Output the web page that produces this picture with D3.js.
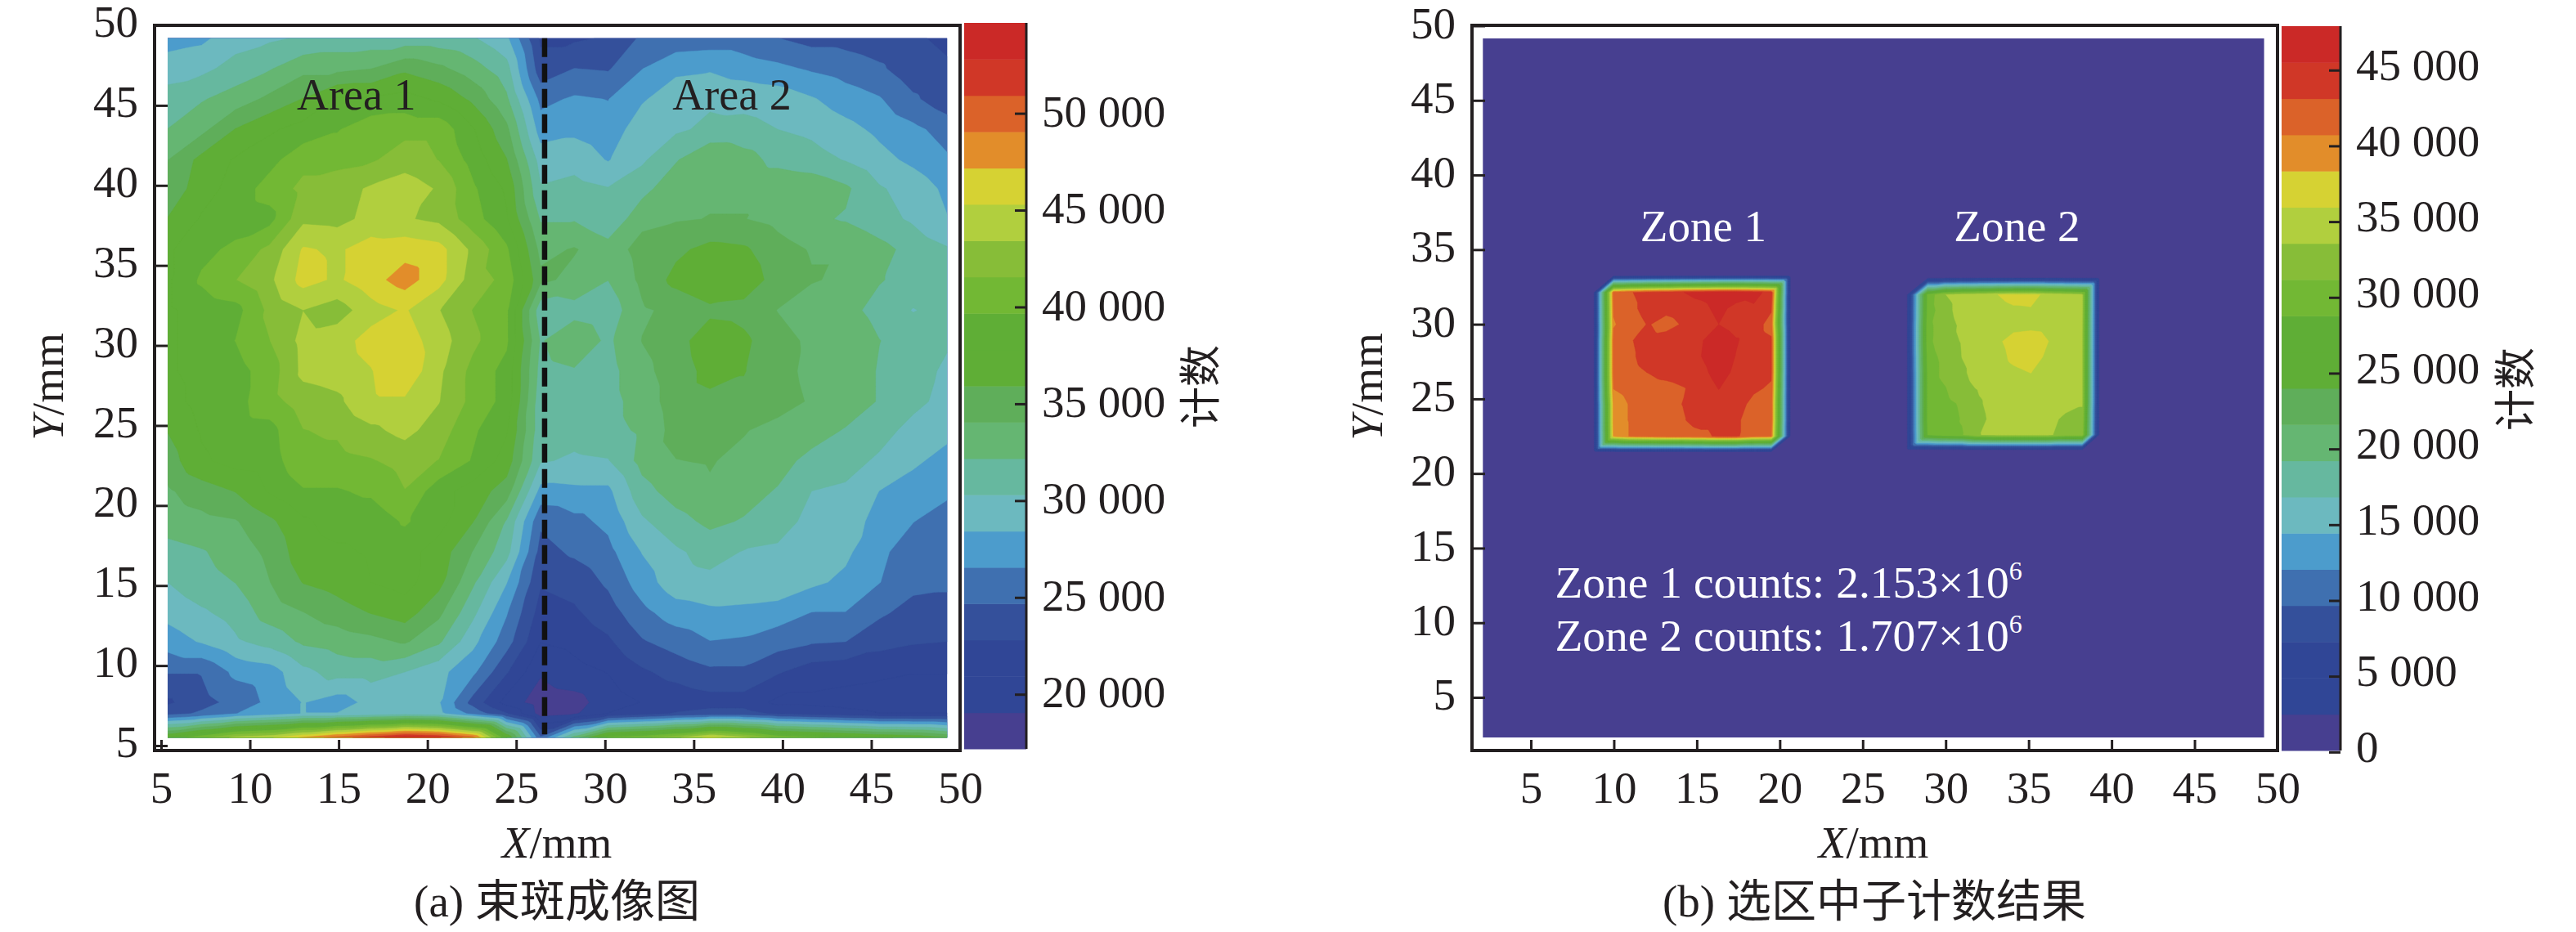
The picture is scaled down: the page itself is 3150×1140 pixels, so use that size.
<!DOCTYPE html>
<html><head><meta charset="utf-8">
<script src="https://cdn.jsdelivr.net/npm/d3@7"></script>
<style>
html,body{margin:0;padding:0;background:#fff}
svg{display:block}
text{font-family:"Liberation Serif","Noto Sans CJK SC",serif;fill:#231f20}
</style></head><body>
<svg id="c" width="3150" height="1140"></svg>
<script>
// ---------- shared ----------
const bandColors = ["#473f90","#304696","#304696","#34509b","#3f70b0","#4c9ccc","#6cb9bf","#66b89f","#65b672","#5fae5a","#5fae36","#5fae36","#72b834","#87bd38","#b1cf3e","#d6d233","#e28d2a","#db6229","#d03727","#cb2927"];
const axisTicks = [5,10,15,20,25,30,35,40,45,50];

// ---------- panel (a): counts in thousands ----------
const aBarLevels = [17.18,19.05,20.93,22.8,24.68,26.55,28.42,30.3,32.17,34.05,35.92,37.8,39.67,41.55,43.42,45.3,47.17,49.05,50.92,52.8,54.67];
const aBarTicks = [20000,25000,30000,35000,40000,45000,50000];
const aXNodes = [5.37,7.28,9.19,11.1,13.0,14.91,16.82,18.73,20.64,22.55,24.46,26.37,28.27,30.18,32.09,34.0,35.91,37.82,39.73,41.64,43.55,45.46,47.36,49.27];
const aYNodes = [49.2,47.3,45.4,43.5,41.6,39.8,37.9,36.0,34.1,32.2,30.3,28.4,26.5,24.7,22.8,20.9,19.0,17.1,15.2,13.3,11.5,9.6,7.7,7.0,5.5];
const aCounts = [
[27.5,28,29.5,30,30.5,31,31,31,31,30.5,28.8,22.5,22.5,23,25,25.3,25.5,25.5,24.7,24,24,23.5,23,22.5],
[29.5,29.8,31,32,33.5,33.5,34,35.5,34.5,33,31,23.5,24.7,24.5,26.5,28,28.2,27.5,27,26.3,25.7,25,23.5,23],
[31,32,33,34.5,36,38,38,38.5,37.5,35.5,32.5,26,26.8,26.5,28.2,29.5,30,29.8,29.5,28.6,27.5,26.7,25,23.5],
[32.2,33.5,36,37.5,38.5,39.5,41,41,41,38,34.5,27.5,28,27.3,29.5,30,30.7,30.8,30.3,29.9,29,28,27,25.8],
[34,36.5,38,39,41,41,41.3,42.5,41.5,39,36,29.5,29.5,28.3,30,32,34,33,31.5,31,30.2,29,28,26.8],
[34.5,37,38.5,40.5,42,42.5,43.7,44.5,43.2,40,37.5,30.5,31,30.4,31.5,33.5,33.8,33.8,33.8,33.5,32.5,30.5,29.5,28],
[36,38,38.5,39,43,42.8,44,43.6,43,40.5,38,32,32,30.6,33.5,33.9,34.1,34.1,33.5,32.5,32,31,30,28.5],
[37.5,39,40.2,42,45.5,45,46.2,46.5,46,43,40,33.5,34.2,33,34.8,35.5,36.5,36.2,34.8,33.9,33.9,32.8,31.5,30.5],
[37.5,40,41.5,43,46,45,46.5,48,46,42.5,41,34.5,33.5,32.2,34.5,36.5,37.5,37,35.2,34.2,33.7,32.3,31.5,31],
[37.5,38.5,39,42,43.4,42.5,44.5,45.5,43.5,41.5,40,31,31.5,31,33.8,34.5,35.5,35.3,34,33,32.8,31.5,30.2,31],
[37.5,38.5,39.7,41.5,44,44.5,46,46.3,44.3,42,40,32,33.5,31.8,34.1,35.2,37,36.3,34.7,33.7,33.7,32.2,31.5,30.5],
[37.5,38.5,39,40.5,43.9,44.3,45.2,46.8,43.8,41,39,31.5,32,31.5,33.5,35,36.5,36,34.8,33.5,33.5,32,31,30],
[37,38.5,39,40.8,42.5,43,45,45,43.5,41,39,31,30.8,31.5,33,35,35.5,35.5,35,33.8,33.5,32,30.8,29.7],
[36,38,38.8,39,41.5,41.8,43,44,42.5,40,38,31,31,31.5,32.5,34.8,35,34.2,33.3,33.2,32,31,29.7,29],
[35,37.5,38.5,38.8,41,41,41.4,42.2,41.5,39.5,37,30.5,30,30.2,32.8,34,34.2,33.5,33,31.5,31,30,28.8,27.7],
[33.8,35,36,38,39.5,39.5,40,41.5,38.5,37,35,27.8,28,28,31.5,33,33.8,33,32,30.3,30,28.4,27.5,27],
[33,33.5,33.9,35.5,37.5,38.5,38.5,39.9,38.5,36,32,25,26,27,30,31.5,32.6,32,31,29.8,29,28,26.6,25.5],
[31.5,32,33,34.5,37,37.5,38,38.5,37,34,31,24,25,26,28.5,30,31,30.2,30,29.8,28.8,27,25.5,25.5],
[30.3,31.5,32.2,34,36,36.7,37.8,38.5,36.5,32.5,28.5,23,23.5,25,27.5,29.5,29.8,30,29.8,28.8,28,26.6,25.2,25],
[29,30,31,33,34,35,36,36.8,34.5,30.8,26.7,22,22.5,23.8,26,27.5,28,27.8,27.5,26.5,26.5,25,24,24],
[27.5,28.6,30,31,32.5,33,33.5,34.3,32.5,29,25.5,21,21.5,22.5,24.5,25.5,26.5,26.3,25.5,24.9,24.7,23.5,23,22.8],
[24.8,24.8,27,27.5,29.8,31,31,30.3,29,27,23,19.3,20.3,21,22.5,23.5,24.3,24.3,23,21.8,21.5,21.3,21,21],
[22.5,24,25.3,27,28.5,27.5,29,29.5,28.6,24,20.2,18,18.3,20,21,21.5,22,22,20.5,20.5,20.3,20,20,20],
[24,25,26.5,27.5,28.5,28.5,29,29.5,29,26,23,18.3,18.8,21,22,23,23.5,23.5,22.5,22,21.5,21,21,21],
[38,41,44,45,47.5,50,52,54,53,50,38,25,33,40,41,43,46,44,41,40,39,38,37.5,36]
];

// ---------- panel (b): counts in thousands ----------
const bBarLevels = [0.1,2.49,4.88,7.27,9.66,12.05,14.44,16.83,19.22,21.61,24,26.39,28.78,31.17,33.56,35.95,38.34,40.73,43.12,45.51,47.9];
const bBarTicks = [0,5000,10000,15000,20000,25000,30000,35000,40000,45000];
const bPlateX = [2.1,49.2];
const bPlateY = [2.3,49.15];
const zone1X = [8.74,9.98,11.04,12.09,13.15,14.21,15.26,16.32,17.38,18.43,19.49,20.7];
const zone1Y = [33.3,32.13,31.06,29.99,28.92,27.85,26.78,25.71,24.64,23.57,22.5,21.4];
const zone1Counts = [
[0,0,0,0,0,0,0,0,0,0,0,0],
[0,41.5,43,44,44.5,45.5,46,46.5,46.5,46,45,0],
[0,41,42.6,44,44,44.7,45,46,45,45.3,43.5,0],
[0,40.5,42,43.3,42,43.5,44.5,45.5,44.5,44.5,42,0],
[0,41.5,43,44,44.5,44.5,45.3,47,45.7,44.5,43.5,0],
[0,41.5,42.8,44,44.5,44.5,45.5,47,45.4,44.5,43.5,0],
[0,41.5,42.5,43.2,44,44.5,44.8,46.5,45,44.5,43.5,0],
[0,40.8,41.7,42,42.3,43,44,45.6,44.3,43.5,42.8,0],
[0,39.5,41,42,42.5,43.2,44,44.5,44,42.5,42,0],
[0,39.5,41,42,42,43,44,44,43.5,42,42,0],
[0,39,41,41.5,42,42,42.5,43.5,43.5,41.5,41,0],
[0,0,0,0,0,0,0,0,0,0,0,0]
];
const zone2X = [27.58,28.92,29.95,30.99,32.02,33.06,34.09,35.13,36.16,37.2,38.23,39.32];
const zone2Y = [33.18,31.98,30.94,29.89,28.85,27.81,26.77,25.72,24.68,23.64,22.59,21.52];
const zone2Counts = [
[0,0,0,0,0,0,0,0,0,0,0,0],
[0,29.5,33.5,34.5,35,35.9,36.5,36.5,35.5,34.8,34,0],
[0,29.8,32.8,34.5,35,35.3,35.7,35.8,35,34.5,34,0],
[0,30.5,32.5,34,34.7,35,35.3,35.5,35.3,34.7,33.8,0],
[0,30.5,32.7,33.7,34.5,35.5,36.8,37,36,34.7,33.7,0],
[0,30,32,33.6,34.5,35,36.5,37,35.5,34.7,33.7,0],
[0,29.5,32,33.2,34.5,34.7,35.5,36,35,34.5,33.7,0],
[0,29.5,31,32.8,33.8,34.5,34.7,34.8,34.5,34.5,33.7,0],
[0,29.5,30.5,31.5,33.3,34.5,34.8,34.8,34.5,34.5,33.7,0],
[0,29.5,30.2,31.3,33,34.3,34.7,34.7,34.5,33,33,0],
[0,29,30.5,31,33.5,34,34,34,34,32.5,32.5,0],
[0,0,0,0,0,0,0,0,0,0,0,0]
];

// ---------- drawing ----------
const svg = d3.select("#c");
const FS = 55;
const fmtCount = v => v === 0 ? "0" : Math.floor(v/1000) + " " + String(v%1000).padStart(3,"0");

// piecewise-linear surface on a "/" triangulated mesh, contoured with d3.contours
function surface(g, rows, xn, yn, levels, x, y){
  const F = 8, n = xn.length, m = yn.length;
  const W = (n-1)*F+1, H = (m-1)*F+1, fine = new Float64Array(W*H);
  for(let j=0;j<H;j++){
    const r = Math.min(Math.floor(j/F), m-2), v = j/F-r;
    for(let i=0;i<W;i++){
      const c = Math.min(Math.floor(i/F), n-2), u = i/F-c;
      const a=rows[r][c], b=rows[r][c+1], e=rows[r+1][c], d=rows[r+1][c+1];
      fine[j*W+i] = (u+v<=1) ? a+u*(b-a)+v*(e-a) : d+(1-u)*(e-d)+(1-v)*(b-d);
    }
  }
  const xi = d3.scaleLinear().domain(d3.range(n)).range(xn);
  const yi = d3.scaleLinear().domain(d3.range(m)).range(yn);
  const path = d3.geoPath(d3.geoTransform({point(px,py){
    this.stream.point(x(xi((px-.5)/F)), y(yi((py-.5)/F)));
  }}));
  const thr = levels.slice(1,-1);
  const cs = d3.contours().size([W,H]).smooth(true).thresholds(thr)(fine);
  g.selectAll(null).data(cs).join("path")
    .attr("d", path)
    .attr("fill", (d,i)=>bandColors[i+1])
    .attr("stroke", (d,i)=>bandColors[i+1])
    .attr("stroke-width", .4);
}

function panel(o){
  const x = d3.scaleLinear().domain([5,50]).range(o.xr);
  const y = d3.scaleLinear().domain([5,50]).range(o.yr);
  const g = svg.append("g");
  // heat surface
  const clipId = "clip"+o.id;
  const px0=x(o.plateX[0]), px1=x(o.plateX[1]), py0=y(o.plateY[1]), py1=y(o.plateY[0]);
  g.append("clipPath").attr("id",clipId).append("rect")
    .attr("x",px0).attr("y",py0).attr("width",px1-px0).attr("height",py1-py0);
  const heat = g.append("g").attr("clip-path",`url(#${clipId})`);
  heat.append("rect").attr("x",px0).attr("y",py0).attr("width",px1-px0).attr("height",py1-py0).attr("fill",bandColors[0]);
  o.surfaces.forEach(s=>surface(heat,s.rows,s.xn,s.yn,o.levels,x,y));

  // axes
  const ax = d3.axisBottom(x).tickValues(axisTicks).tickSize(-13).tickPadding(25).tickFormat(d3.format("d"));
  const ay = d3.axisLeft(y).tickValues(axisTicks).tickSize(-16).tickPadding(20).tickFormat(d3.format("d"));
  const gx = g.append("g").attr("transform",`translate(0,${o.frame[3]})`).call(ax);
  const gy = g.append("g").attr("transform",`translate(${o.frame[0]},0)`).call(ay);
  [gx,gy].forEach(a=>{a.select(".domain").remove();
    a.selectAll("line").attr("stroke","#231f20").attr("stroke-width",3);
    a.selectAll("text").attr("font-size",FS).attr("font-family",null).attr("fill","#231f20");});
  gx.selectAll("text").attr("dy",null).attr("y",64);
  gy.selectAll("text").attr("transform",`translate(0,${o.labelShift})`);
  g.append("rect").attr("x",o.frame[0]).attr("y",o.frame[1]).attr("width",o.frame[2]-o.frame[0]).attr("height",o.frame[3]-o.frame[1])
    .attr("fill","none").attr("stroke","#231f20").attr("stroke-width",4);

  // titles
  const xt = g.append("text").attr("x",o.xTitle[0]).attr("y",o.xTitle[1]).attr("text-anchor","middle").attr("font-size",FS);
  xt.append("tspan").attr("font-style","italic").text("X"); xt.append("tspan").text("/mm");
  const yt = g.append("text").attr("transform",`translate(${o.yTitle[0]},${o.yTitle[1]}) rotate(-90)`).attr("text-anchor","middle").attr("font-size",FS);
  yt.append("tspan").attr("font-style","italic").text("Y"); yt.append("tspan").text("/mm");
  g.append("text").attr("x",o.caption[0]).attr("y",o.caption[1]).attr("text-anchor","middle").attr("font-size",55).text(o.captionText);

  // colour bar
  const cb = d3.scaleLinear().domain([o.levels[0]*1000,o.levels[20]*1000]).range([o.bar[3],o.bar[1]]);
  g.selectAll(null).data(bandColors).join("rect")
    .attr("x",o.bar[0]).attr("width",o.bar[2]-o.bar[0])
    .attr("y",(d,i)=>cb(o.levels[i+1]*1000)).attr("height",(d,i)=>cb(o.levels[i]*1000)-cb(o.levels[i+1]*1000)+.5)
    .attr("fill",d=>d);
  const ac = d3.axisRight(cb).tickValues(o.barTicks).tickSize(-14).tickPadding(19).tickFormat(fmtCount);
  const gc = g.append("g").attr("transform",`translate(${o.bar[2]},0)`).call(ac);
  gc.select(".domain").attr("stroke","#231f20").attr("stroke-width",3).attr("d",`M0,${o.bar[1]}V${o.bar[3]}`);
  gc.selectAll("line").attr("stroke","#231f20").attr("stroke-width",3);
  gc.selectAll("text").attr("font-size",FS).attr("font-family",null).attr("fill","#231f20").attr("transform",`translate(0,${o.barShift})`);
  g.append("text").attr("transform",`translate(${o.barTitle[0]},${o.barTitle[1]}) rotate(-90)`).attr("text-anchor","middle").attr("dominant-baseline","central").attr("font-size",51).text("计数");
  return {g,x,y};
}

const A = panel({id:"a",xr:[197,1174],yr:[912,31],frame:[189,31,1174,918],
  plateX:[aXNodes[0],aXNodes[23]],plateY:[aYNodes[24],aYNodes[0]],
  surfaces:[{rows:aCounts,xn:aXNodes,yn:aYNodes}],levels:aBarLevels,barTicks:aBarTicks,
  bar:[1179,28,1255,916],barShift:-2,labelShift:-4,barTitle:[1469,473],
  xTitle:[681,1049],yTitle:[77,473],caption:[681,1121],captionText:"(a) 束斑成像图"});

const B = panel({id:"b",xr:[1872,2785],yr:[853,31.5],frame:[1800,31,2785,918],
  plateX:bPlateX,plateY:bPlateY,
  surfaces:[{rows:zone1Counts,xn:zone1X,yn:zone1Y},{rows:zone2Counts,xn:zone2X,yn:zone2Y}],levels:bBarLevels,barTicks:bBarTicks,
  bar:[2790,32,2862,918],barShift:-6,labelShift:-3,barTitle:[3077,476],
  xTitle:[2291,1049],yTitle:[1690,473],caption:[2292,1121],captionText:"(b) 选区中子计数结果"});

// annotations of panel (a)
const annA = [{t:"Area 1",x:16.0,y:44.75},{t:"Area 2",x:37.15,y:44.75}];
A.g.selectAll(null).data(annA).join("text")
  .attr("x",d=>A.x(d.x)).attr("y",d=>A.y(d.y)).attr("text-anchor","middle").attr("font-size",54).text(d=>d.t);
const divideX = 26.6, divideY = [49.2,5.7];
A.g.append("path").attr("d",d3.line()(divideY.map(v=>[A.x(divideX),A.y(v)])))
  .attr("stroke","#111").attr("stroke-width",6.5).attr("stroke-dasharray","23 8").attr("fill","none");

// annotations of panel (b)
const annB = [{t:"Zone 1",x:15.4},{t:"Zone 2",x:34.3}];
B.g.selectAll(null).data(annB).join("text")
  .attr("x",d=>B.x(d.x)).attr("y",B.y(35.57)).attr("text-anchor","middle").attr("font-size",55).style("fill","#fff").text(d=>d.t);
const countLines = [{t:"Zone 1 counts: 2.153×10",e:"6",y:11.7},{t:"Zone 2 counts: 1.707×10",e:"6",y:8.1}];
countLines.forEach(l=>{
  const t = B.g.append("text").attr("x",B.x(6.45)).attr("y",B.y(l.y)).attr("font-size",55.5).style("fill","#fff");
  t.append("tspan").style("fill","#fff").text(l.t);
  t.append("tspan").style("fill","#fff").attr("font-size",32).attr("dy",-22).text(l.e);
});
</script>
</body></html>
